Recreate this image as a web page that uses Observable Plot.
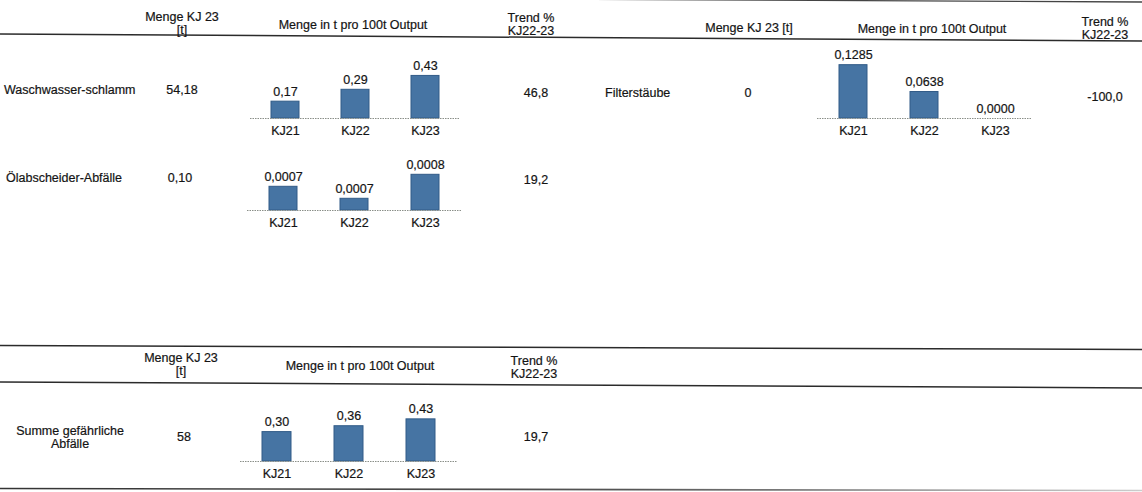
<!DOCTYPE html>
<html>
<head>
<meta charset="utf-8">
<script src="https://cdn.jsdelivr.net/npm/d3@7"></script>
<script src="https://cdn.jsdelivr.net/npm/@observablehq/plot@0.6"></script>
<style>
  html, body { margin: 0; padding: 0; background: #fff; }
  #page { position: relative; width: 1142px; height: 492px; overflow: hidden;
          font-family: "Liberation Sans", Arial, sans-serif; font-size: 12.5px; color: #141414; }
  .t { position: absolute; white-space: nowrap; line-height: 12.5px; -webkit-text-stroke: 0.2px #141414; }
  .c { transform: translate(-50%, -50%); text-align: center; }
  .l { transform: translate(0, -50%); }
  .chart { position: absolute; }
  .chart text { stroke: #141414; stroke-width: 0.2px; }
  #rules { position: absolute; left: 0; top: 0; }
</style>
</head>
<body>
<div id="page"></div>
<script>
// Fiscal years shown in every mini bar chart
const years = ["KJ21", "KJ22", "KJ23"];

// Quantity in t per 100 t output, per waste type and year
const waschwasserschlamm = [0.17, 0.29, 0.43];
const oelabscheiderAbfaelle = [0.000745, 0.00068, 0.00081];
const filterstaeube = [0.1285, 0.0638, 0.0];
const summeGefaehrlich = [0.30, 0.36, 0.43];

// Waste type names, total quantity KJ 23 [t] and trend % KJ22-23
const wasteTypes = ["Waschwasser-schlamm", "Ölabscheider-Abfälle", "Filterstäube", "Summe gefährliche\nAbfälle"];
const mengeKJ23 = [54.18, 0.10, 0, 58];
const trendPct = [46.8, 19.2, -100.0, 19.7];

// Column headers
const headerMenge = "Menge KJ 23\n[t]";
const headerMengeOneLine = "Menge KJ 23 [t]";
const headerOutput = "Menge in t pro 100t Output";
const headerTrend = "Trend %\nKJ22-23";

const page = document.getElementById("page");
const de = (v, dec) => v.toFixed(dec).replace(".", ",");

function label(text, x, y, align = "c") {
  const d = document.createElement("div");
  d.className = "t " + align;
  d.style.left = x + "px";
  d.style.top = y + "px";
  d.innerHTML = text.split("\n").join("<br>");
  page.appendChild(d);
}

// Horizontal table rules
const svgNS = "http://www.w3.org/2000/svg";
const rules = document.createElementNS(svgNS, "svg");
rules.setAttribute("id", "rules");
rules.setAttribute("width", 1142);
rules.setAttribute("height", 492);
rules.innerHTML = `
  <defs><linearGradient id="fade" x1="0" x2="1" y1="0" y2="0">
    <stop offset="0" stop-color="#333"/><stop offset="0.55" stop-color="#555"/><stop offset="1" stop-color="#ccc"/>
  </linearGradient></defs>
  <line x1="0" y1="-3.5" x2="1142" y2="2" stroke="#444" stroke-width="1.3"/>
  <line x1="0" y1="34" x2="1142" y2="41" stroke="#2b2b2b" stroke-width="1.5"/>
  <line x1="0" y1="345.5" x2="1142" y2="349.5" stroke="#2b2b2b" stroke-width="1.5"/>
  <line x1="0" y1="382" x2="1142" y2="388" stroke="#2b2b2b" stroke-width="1.5"/>
  <line x1="0" y1="488.5" x2="1142" y2="490.5" stroke="url(#fade)" stroke-width="1.6"/>`;
page.appendChild(rules);

// Small bar chart: bars rise from the axis baseline yMin
function miniChart(values, o) {
  const data = years.map((year, i) => ({year, value: values[i]}));
  const H = 100, base = 75;
  const chart = Plot.plot({
    width: o.right - o.left,
    height: H,
    marginTop: 0, marginBottom: H - base, marginLeft: 0, marginRight: 0,
    style: {fontFamily: "Liberation Sans, Arial, sans-serif", background: "transparent", overflow: "visible"},
    x: {type: "band", domain: years, paddingInner: 0.6, paddingOuter: 0.3, label: null},
    y: {domain: [o.yMin, o.yMin + base / o.pxPerUnit], axis: null},
    marks: [
      Plot.barY(data, {x: "year", y1: () => o.yMin, y2: "value", fill: "#4674a3", stroke: "#315b87", strokeWidth: 1}),
      Plot.ruleY([o.yMin], {stroke: "#8a8f88", strokeWidth: 1, strokeDasharray: "1.5,1"}),
      Plot.text(data, {x: "year", y: "value", text: d => de(d.value, o.decimals), lineAnchor: "bottom", dy: -6, fontSize: 12.5, fill: "#141414"}),
      Plot.axisX({tickSize: 0, tickPadding: 8, fontSize: 12.5, fill: "#141414", label: null})
    ]
  });
  chart.classList.add("chart");
  chart.style.left = o.left + "px";
  chart.style.top = (o.baseline - base) + "px";
  page.appendChild(chart);
}

// ---- Left block: headers
label(headerMenge, 182, 23);
label(headerOutput, 353, 25);
label(headerTrend, 531, 24);

// Row: Waschwasser-schlamm
label(wasteTypes[0], 4, 90, "l");
label(de(mengeKJ23[0], 2), 182, 90);
label(de(trendPct[0], 1), 536, 93);
miniChart(waschwasserschlamm, {left: 250, right: 460, baseline: 117.5, pxPerUnit: 99, yMin: 0, decimals: 2});

// Row: Ölabscheider-Abfälle
label(wasteTypes[1], 6, 178, "l");
label(de(mengeKJ23[1], 2), 180, 178);
label(de(trendPct[1], 1), 536, 180);
miniChart(oelabscheiderAbfaelle, {left: 247, right: 462, baseline: 210, pxPerUnit: 184600, yMin: 0.0006166, decimals: 4});

// ---- Right block
label(headerMengeOneLine, 749, 28);
label(headerOutput, 932, 29);
label(headerTrend, 1105, 28);

label(wasteTypes[2], 605, 93, "l");
label(de(mengeKJ23[2], 0), 748, 93);
label(de(trendPct[2], 1), 1105, 97);
miniChart(filterstaeube, {left: 817, right: 1032, baseline: 117.5, pxPerUnit: 415, yMin: 0, decimals: 4});

// ---- Bottom block: total
label(headerMenge, 181, 364);
label(headerOutput, 360, 366);
label(headerTrend, 534, 367);

label(wasteTypes[3], 70, 437);
label(de(mengeKJ23[3], 0), 184, 437);
label(de(trendPct[3], 1), 536, 437);
miniChart(summeGefaehrlich, {left: 240, right: 457, baseline: 460.5, pxPerUnit: 98, yMin: 0, decimals: 2});
</script>
</body>
</html>
